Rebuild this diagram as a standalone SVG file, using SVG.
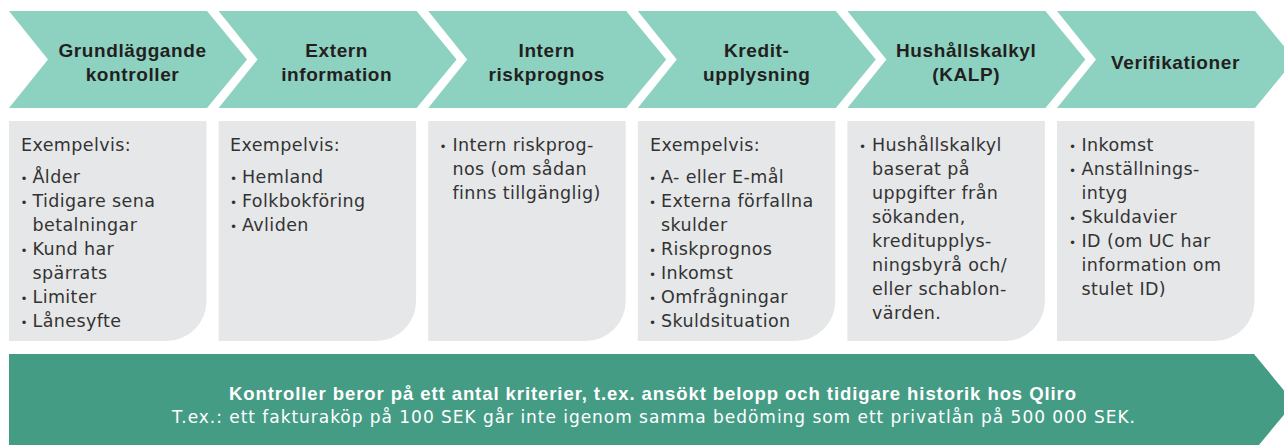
<svg xmlns="http://www.w3.org/2000/svg" width="1284" height="445" viewBox="0 0 1284 445">
<style>
.chev{fill:#8dd1c1}
.box{fill:#e6e7e8}
.ct{font-family:"Liberation Sans",Arial,sans-serif;font-weight:bold;font-size:19px;letter-spacing:0.6px;fill:#231f20;text-anchor:middle}
.bt{font-family:"DejaVu Sans",sans-serif;font-size:17.5px;letter-spacing:0.4px;fill:#333333}
.bu{font-family:"DejaVu Sans",sans-serif;font-size:12px;fill:#333333;text-anchor:middle}
.b1{font-family:"Liberation Sans",Arial,sans-serif;font-weight:bold;font-size:18.5px;fill:#ffffff}
.b2{font-family:"DejaVu Sans",sans-serif;font-size:17px;fill:#ffffff}
</style>
<defs>
<path id="chevShape" d="M0,11 H198 L238,59.5 L198,108 H0 L39,59.5 Z"/>
<path id="boxShape" d="M0,121 H197.5 V301 A40,40 0 0 1 157.5,341 H0 Z"/>
</defs>

<g id="step1">
<use href="#chevShape" class="chev" x="9"/>
<text class="ct" x="132.5" y="56.5">Grundläggande</text>
<text class="ct" x="132.5" y="80.5">kontroller</text>
</g>
<g id="step2">
<use href="#chevShape" class="chev" x="218.6"/>
<text class="ct" x="336.7" y="56.5">Extern</text>
<text class="ct" x="336.7" y="80.5">information</text>
</g>
<g id="step3">
<use href="#chevShape" class="chev" x="428.2"/>
<text class="ct" x="546.7" y="56.5">Intern</text>
<text class="ct" x="546.7" y="80.5">riskprognos</text>
</g>
<g id="step4">
<use href="#chevShape" class="chev" x="637.8"/>
<text class="ct" x="756.7" y="56.5">Kredit-</text>
<text class="ct" x="756.7" y="80.5">upplysning</text>
</g>
<g id="step5">
<use href="#chevShape" class="chev" x="847.4"/>
<text class="ct" x="966.2" y="56.5">Hushållskalkyl</text>
<text class="ct" x="966.2" y="80.5">(KALP)</text>
</g>
<g id="step6">
<use href="#chevShape" class="chev" x="1057"/>
<text class="ct" x="1175.5" y="68.5">Verifikationer</text>
</g>

<g id="box1">
<use href="#boxShape" class="box" x="9"/>
<text class="bt" x="21" y="151">Exempelvis:</text>
<text class="bu" x="24" y="183">•</text><text class="bt" x="32.5" y="183">Ålder</text>
<text class="bu" x="24" y="207">•</text><text class="bt" x="32.5" y="207">Tidigare sena</text>
<text class="bt" x="32.5" y="231">betalningar</text>
<text class="bu" x="24" y="255">•</text><text class="bt" x="32.5" y="255">Kund har</text>
<text class="bt" x="32.5" y="279">spärrats</text>
<text class="bu" x="24" y="303">•</text><text class="bt" x="32.5" y="303">Limiter</text>
<text class="bu" x="24" y="327">•</text><text class="bt" x="32.5" y="327">Lånesyfte</text>
</g>
<g id="box2">
<use href="#boxShape" class="box" x="218.6"/>
<text class="bt" x="230" y="151">Exempelvis:</text>
<text class="bu" x="233.5" y="183">•</text><text class="bt" x="242" y="183">Hemland</text>
<text class="bu" x="233.5" y="207">•</text><text class="bt" x="242" y="207">Folkbokföring</text>
<text class="bu" x="233.5" y="231">•</text><text class="bt" x="242" y="231">Avliden</text>
</g>
<g id="box3">
<use href="#boxShape" class="box" x="428.2"/>
<text class="bu" x="443" y="151">•</text><text class="bt" x="452.5" y="151">Intern riskprog-</text>
<text class="bt" x="452.5" y="175">nos (om sådan</text>
<text class="bt" x="452.5" y="199">finns tillgänglig)</text>
</g>
<g id="box4">
<use href="#boxShape" class="box" x="637.8"/>
<text class="bt" x="650" y="151">Exempelvis:</text>
<text class="bu" x="652.5" y="183">•</text><text class="bt" x="661" y="183">A- eller E-mål</text>
<text class="bu" x="652.5" y="207">•</text><text class="bt" x="661" y="207">Externa förfallna</text>
<text class="bt" x="661" y="231">skulder</text>
<text class="bu" x="652.5" y="255">•</text><text class="bt" x="661" y="255">Riskprognos</text>
<text class="bu" x="652.5" y="279">•</text><text class="bt" x="661" y="279">Inkomst</text>
<text class="bu" x="652.5" y="303">•</text><text class="bt" x="661" y="303">Omfrågningar</text>
<text class="bu" x="652.5" y="327">•</text><text class="bt" x="661" y="327">Skuldsituation</text>
</g>
<g id="box5">
<use href="#boxShape" class="box" x="847.4"/>
<text class="bu" x="862.5" y="151">•</text><text class="bt" x="872" y="151">Hushållskalkyl</text>
<text class="bt" x="872" y="175">baserat på</text>
<text class="bt" x="872" y="199">uppgifter från</text>
<text class="bt" x="872" y="223">sökanden,</text>
<text class="bt" x="872" y="247">kreditupplys-</text>
<text class="bt" x="872" y="271">ningsbyrå och/</text>
<text class="bt" x="872" y="295">eller schablon-</text>
<text class="bt" x="872" y="319">värden.</text>
</g>
<g id="box6">
<use href="#boxShape" class="box" x="1057"/>
<text class="bu" x="1072.5" y="151">•</text><text class="bt" x="1081.5" y="151">Inkomst</text>
<text class="bu" x="1072.5" y="175">•</text><text class="bt" x="1081.5" y="175">Anställnings-</text>
<text class="bt" x="1081.5" y="199">intyg</text>
<text class="bu" x="1072.5" y="223">•</text><text class="bt" x="1081.5" y="223">Skuldavier</text>
<text class="bu" x="1072.5" y="247">•</text><text class="bt" x="1081.5" y="247">ID (om UC har</text>
<text class="bt" x="1081.5" y="271">information om</text>
<text class="bt" x="1081.5" y="295">stulet ID)</text>
</g>

<g id="banner">
<path d="M9,354 H1254 L1294,402.5 L1254,451 H9 Z" fill="#449c85"/>
<text class="b1" x="229" y="399.5" textLength="847" lengthAdjust="spacing">Kontroller beror på ett antal kriterier, t.ex. ansökt belopp och tidigare historik hos Qliro</text>
<text class="b2" x="172" y="423" textLength="963" lengthAdjust="spacing">T.ex.: ett fakturaköp på 100 SEK går inte igenom samma bedöming som ett privatlån på 500 000 SEK.</text>
</g>
<g id="connectors"></g>
</svg>
